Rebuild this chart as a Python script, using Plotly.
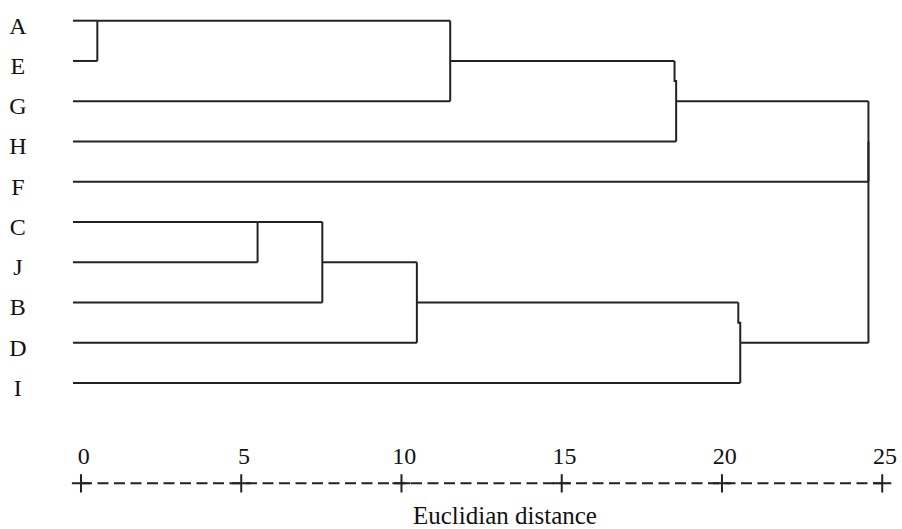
import plotly.graph_objects as go

# ---- data ----
leaves = ["A", "E", "G", "H", "F", "C", "J", "B", "D", "I"]
# agglomeration schedule: clusters 0..9 are leaves, new clusters get ids 10, 11, ...
merge_first = [0, 5, 11, 12, 10, 14, 13, 15, 17]
merge_second = [1, 6, 7, 8, 2, 3, 9, 4, 16]
merge_dist_top = [0.51, 5.51, 7.53, 10.48, 11.52, 18.52, 20.51, 24.57, 24.57]
merge_dist_bottom = [0.51, 5.51, 7.53, 10.48, 11.52, 18.57, 20.57, 24.57, 24.57]
leaf_start = -0.25
tick_values = [0, 5, 10, 15, 20, 25]
tick_labels = ["0", "5", "10", "15", "20", "25"]
axis_title = "Euclidian distance"

FONT = "Liberation Serif"
LINE = "#222222"

# ---- build dendrogram segments ----
row = {i: float(i) for i in range(len(leaves))}
start = {i: leaf_start for i in range(len(leaves))}
xs, ys = [], []


def seg(x0, y0, x1, y1):
    xs.extend([x0, x1, None])
    ys.extend([y0, y1, None])


for k, (a, b, dt, db) in enumerate(zip(merge_first, merge_second,
                                        merge_dist_top, merge_dist_bottom)):
    ra, rb = row[a], row[b]
    if ra > rb:
        a, b, ra, rb = b, a, rb, ra
    seg(start[a], ra, dt, ra)
    seg(start[b], rb, db, rb)
    if dt == db:
        seg(dt, ra, dt, rb)
    else:
        mid = ra + 0.5
        xs.extend([dt, dt, db, db, None])
        ys.extend([ra, mid, mid, rb, None])
    new_id = len(leaves) + k
    row[new_id] = float(int((ra + rb) // 2))
    start[new_id] = db

fig = go.Figure()
fig.add_trace(go.Scatter(x=xs, y=ys, mode="lines",
                         line=dict(color=LINE, width=2),
                         hoverinfo="skip", showlegend=False))

# leaf labels
n = len(leaves)
fig.add_trace(go.Scatter(x=[-1.97] * n, y=[i + 0.17 for i in range(n)],
                         mode="text", text=leaves, textposition="middle center",
                         textfont=dict(family=FONT, size=24, color="#111111"),
                         hoverinfo="skip", showlegend=False))

# dashed "axis" with + ticks
axis_y = 11.49
fig.add_trace(go.Scatter(x=[tick_values[0], tick_values[-1]], y=[axis_y, axis_y],
                         mode="lines",
                         line=dict(color=LINE, width=2, dash="11px,5.5px"),
                         hoverinfo="skip", showlegend=False))
fig.add_trace(go.Scatter(x=tick_values, y=[axis_y] * len(tick_values),
                         mode="markers",
                         marker=dict(symbol="cross-thin", size=13,
                                     line=dict(color=LINE, width=2)),
                         hoverinfo="skip", showlegend=False))
fig.add_trace(go.Scatter(x=[v + 0.09 for v in tick_values],
                         y=[10.86] * len(tick_values),
                         mode="text", text=tick_labels, textposition="middle center",
                         textfont=dict(family=FONT, size=24, color="#111111"),
                         hoverinfo="skip", showlegend=False))

fig.add_annotation(x=13.23, y=12.3, xref="x", yref="y", text=axis_title,
                   showarrow=False, xanchor="center", yanchor="middle",
                   font=dict(family=FONT, size=25, color="#111111"))

fig.update_layout(
    width=902, height=529,
    margin=dict(l=0, r=0, t=0, b=0),
    paper_bgcolor="white", plot_bgcolor="white",
    xaxis=dict(range=[-2.527, 25.617], visible=False, fixedrange=True),
    yaxis=dict(range=[12.625, -0.514], visible=False, fixedrange=True),
    showlegend=False,
)

fig.write_html("out.html", config={"displayModeBar": False},
               post_script="document.body.style.margin='0';"
                           "document.body.style.overflow='hidden';")
